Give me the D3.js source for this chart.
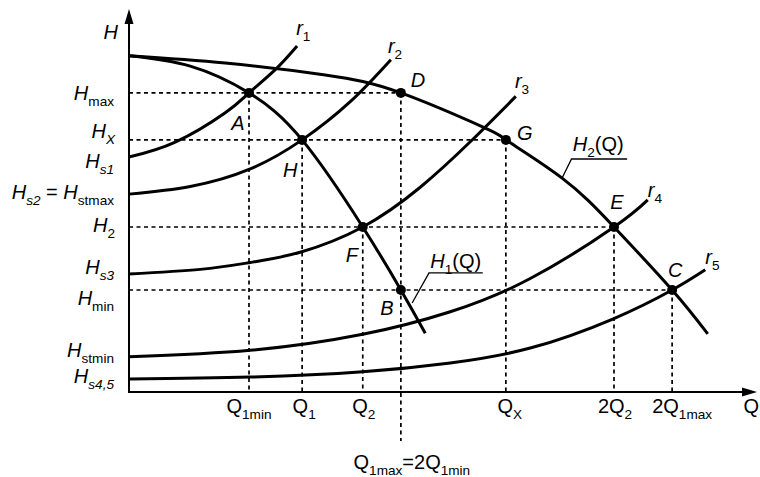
<!DOCTYPE html>
<html><head><meta charset="utf-8">
<script src="https://cdn.jsdelivr.net/npm/d3@7"></script>
<style>html,body{margin:0;padding:0;background:#fff;}svg{display:block;}</style>
</head><body>
<svg id="c" width="760" height="477"></svg>
<script>
// ---- data (relative units: Q 0..100, H 0..100) ----
const qTicks = {Q1min:19.2, Q1:27.7, Q2:37.4, Q1max:43.5, QX:60.3, Q2x2:77.6, Q1maxx2:86.9};
const hLevels = {H0:88.0, Hmax:78.3, HX:66.0, Hs1:61.5, Hs2:51.8, H2:43.2, Hs3:30.9, Hmin:26.7, Hstmin:9.2, Hs45:3.4};

const pumpH2 = [[0,88.0],[15.4,86.1],[31.4,83.0],[43.5,78.3],[57.0,69.1],[60.3,66.0],[69.3,56.0],[77.6,43.2],[86.9,26.7],[92.6,15.2]];
const pumpH1 = [[0,88.0],[9.8,85.3],[19.2,78.3],[27.7,66.0],[37.4,43.2],[43.5,26.7],[47.4,15.4]];
const r1 = [[0,61.5],[7.4,65.4],[15.4,73.1],[19.2,78.3],[23.4,84.4],[26.9,90.6]];
const r2 = [[0,51.8],[9.8,53.8],[19.4,58.4],[27.7,66.0],[35.4,76.0],[41.9,87.0]];
const r3 = [[0,30.9],[11.4,32.1],[19.4,33.9],[27.4,36.6],[37.4,43.2],[46.6,53.6],[54.6,65.5],[61.9,77.4]];
const r4 = [[0,9.2],[19.4,10.9],[37.4,15.1],[51.4,21.0],[64.2,29.7],[77.6,43.2],[83.0,50.3]];
const r5 = [[0,3.4],[19.4,3.9],[37.4,5.3],[51.4,7.6],[64.2,11.5],[77.4,19.1],[86.9,26.7],[92.2,32.0]];

const points = [
  {n:"A", q:19.2, h:78.3}, {n:"D", q:43.5, h:78.3},
  {n:"H", q:27.7, h:66.0}, {n:"G", q:60.3, h:66.0},
  {n:"F", q:37.4, h:43.2}, {n:"E", q:77.6, h:43.2},
  {n:"B", q:43.5, h:26.7}, {n:"C", q:86.9, h:26.7}
];

// ---- drawing ----
const svg = d3.select("#c");
const xS = d3.scaleLinear().domain([0,100]).range([129,754]);
const yS = d3.scaleLinear().domain([0,100]).range([392,10]);
const FONT = "'Liberation Sans', Arial, Helvetica, sans-serif";

// dashed guides
const dash = svg.append("g").attr("stroke","#000").attr("stroke-width",1.7).attr("stroke-dasharray","4,3.5").attr("fill","none");
[["Hmax","Q1max"],["HX","QX"],["H2","Q2x2"],["Hmin","Q1maxx2"]].forEach(([h,q])=>{
  dash.append("line").attr("x1",xS(0)).attr("x2",xS(qTicks[q])).attr("y1",yS(hLevels[h])).attr("y2",yS(hLevels[h]));
});
points.forEach(p=>{
  if (p.n==="B") return;
  dash.append("line").attr("x1",xS(p.q)).attr("x2",xS(p.q)).attr("y1",yS(p.h))
    .attr("y2", p.n==="D" ? yS(0)+49 : yS(0));
});

// axes
const ax = svg.append("g").attr("stroke","#000").attr("stroke-width",2);
ax.append("line").attr("x1",xS(0)).attr("x2",xS(0)).attr("y1",yS(0)+1).attr("y2",yS(100)+8);
ax.append("line").attr("x1",xS(0)-1).attr("x2",xS(100)-4).attr("y1",yS(0)).attr("y2",yS(0));
svg.append("path").attr("d",`M${xS(0)},${yS(100)-1} l-4.5,15 l9,0 z`).attr("fill","#000");
svg.append("path").attr("d",`M${xS(100)+3},${yS(0)} l-15,-4.5 l0,9 z`).attr("fill","#000");

// curves
const line = d3.line().x(d=>xS(d[0])).y(d=>yS(d[1])).curve(d3.curveNatural);
const cg = svg.append("g").attr("fill","none").attr("stroke","#000").attr("stroke-width",3).attr("stroke-linecap","butt");
[pumpH2,pumpH1,r1,r2,r3,r4,r5].forEach(c=>cg.append("path").attr("d",line(c)));

// leader lines
const lead = svg.append("g").attr("fill","none").attr("stroke","#000").attr("stroke-width",1.3);
lead.append("polyline").attr("points",[[xS(45.3),yS(23.3)],[xS(48.0),yS(31.2)],[xS(56.6),yS(31.2)]].join(" "));
lead.append("polyline").attr("points",[[xS(69.3),yS(56.0)],[xS(70.8),yS(61.0)],[xS(79.7),yS(61.0)]].join(" "));

// points
svg.append("g").selectAll("circle").data(points).join("circle")
  .attr("cx",d=>xS(d.q)).attr("cy",d=>yS(d.h)).attr("r",5).attr("fill","#000");

// text helper
function label(x, y, parts, anchor, size){
  size = size || 20;
  const t = svg.append("text").attr("x",x).attr("y",y).attr("font-family",FONT)
    .attr("font-size",size).attr("text-anchor",anchor||"start").attr("fill","#000");
  let cur = 0;
  parts.forEach(p=>{
    const s = t.append("tspan").text(p.t);
    const want = p.sub ? 6 : 0;
    if (want!==cur) { s.attr("dy", want-cur); cur = want; }
    if (p.sub) s.attr("font-size", size*0.68);
    if (p.it) s.attr("font-style","italic");
  });
  return t;
}
const I = t=>({t, it:true}), U = t=>({t}), SI = t=>({t, sub:true, it:true}), SU = t=>({t, sub:true});

// H axis labels
label(xS(0)-11, 39, [I("H")], "end", 20);
const hx = xS(0)-15;
label(hx, 100, [I("H"),SU("max")], "end");
label(hx+1, 138, [I("H"),SI("X")], "end");
label(hx, 168, [I("H"),SI("s1")], "end");
label(hx, 199, [I("H"),SI("s2"),U(" = "),I("H"),SU("stmax")], "end");
label(hx+1, 232, [I("H"),SU("2")], "end");
label(hx, 274, [I("H"),SI("s3")], "end");
label(hx, 305, [I("H"),SU("min")], "end");
label(hx, 357, [I("H"),SU("stmin")], "end");
label(hx, 383, [I("H"),SI("s4,5")], "end");

// Q axis labels
const qy = 413;
label(xS(qTicks.Q1min), qy, [U("Q"),SU("1min")], "middle");
label(xS(qTicks.Q1)+2, qy, [U("Q"),SU("1")], "middle");
label(xS(qTicks.Q2)+1, qy, [U("Q"),SU("2")], "middle");
label(xS(qTicks.QX)+4, qy, [U("Q"),SU("X")], "middle");
label(xS(qTicks.Q2x2)+1, qy, [U("2Q"),SU("2")], "middle");
label(xS(qTicks.Q1maxx2)+10, qy, [U("2Q"),SU("1max")], "middle");
label(xS(98.3), qy, [U("Q")], "start");
label(xS(qTicks.Q1max)+11, 469, [U("Q"),SU("1max"),U("=2Q"),SU("1min")], "middle");

// point labels
const off = {A:[-11,37],D:[17,-6],H:[-12,37],G:[19,0],F:[-11,35],E:[3,-18],B:[-14,25],C:[3,-13]};
points.forEach(p=>{
  label(xS(p.q)+off[p.n][0], yS(p.h)+off[p.n][1], [I(p.n)], "middle");
});

// system curve labels
const rl = [[r1,"1",-1,-11],[r2,"2",-3,-7],[r3,"3",-1,-8],[r4,"4",0,-3],[r5,"5",0,-6]];
rl.forEach(([c,n,dx,dy])=>{
  const e = c[c.length-1];
  label(xS(e[0])+dx, yS(e[1])+dy, [I("r"),SU(n)], "start");
});

// pump curve labels
label(xS(48.2), 268, [I("H"),SU("1"),U("(Q)")], "start");
label(xS(71.0), 151, [I("H"),SU("2"),U("(Q)")], "start");
</script>
</body></html>
